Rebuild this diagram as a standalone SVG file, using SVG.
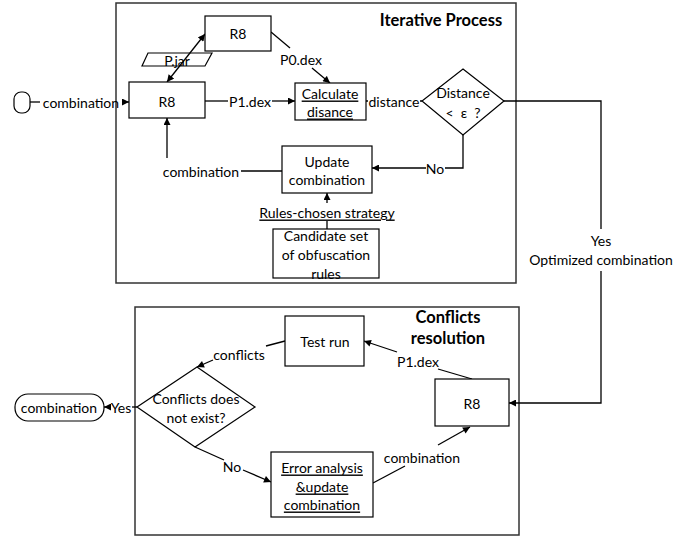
<svg xmlns="http://www.w3.org/2000/svg" width="700" height="538" viewBox="0 0 700 538">
<defs>
<marker id="ah" viewBox="0 0 10 10" refX="10" refY="5" markerWidth="8" markerHeight="7" markerUnits="userSpaceOnUse" orient="auto-start-reverse">
<path d="M0,0 L10,5 L0,10 z" fill="#000"/>
</marker>
</defs>
<style>
text{font-family:Lato,"Open Sans","Liberation Sans",sans-serif;font-size:14px;fill:#000;}
.t{text-anchor:middle;dominant-baseline:central;}
.b{font-weight:bold;font-size:16.5px;}
.u{text-decoration:underline;}
.pre{white-space:pre;}
.box{fill:#fff;stroke:#000;stroke-width:1.2;}
.frame{fill:none;stroke:#333;stroke-width:1.5;}
.ln{fill:none;stroke:#000;stroke-width:1.3;}
.ar{fill:none;stroke:#000;stroke-width:1.3;marker-end:url(#ah);}
</style>
<rect id="frame-iterative" class="frame" x="116" y="3" width="400" height="280"/>
<rect id="frame-conflicts" class="frame" x="135" y="307" width="384" height="228"/>
<text class="t b" x="441" y="20">Iterative Process</text>
<g id="title-conflicts"><text class="t b" x="448" y="317">Conflicts</text><text class="t b" x="448" y="338">resolution</text></g>

<g id="lbl-pjar"><path class="box" d="M148,53 H212 L205,66 H142 Z"/><text class="t" x="177" y="60">P.jar</text></g>

<g id="connectors">
<path class="ln" d="M30,102 H40"/>
<path class="ar" d="M122,102 H129"/>
<path class="ln" d="M167,82 L205,34" marker-start="url(#ah)" marker-end="url(#ah)"/>
<path class="ln" d="M271,32 L290,48"/>
<path class="ar" d="M312,68 L330,83"/>
<path class="ln" d="M205,101 H228"/>
<path class="ar" d="M272,101 H295"/>
<path class="ln" d="M366,101 H368"/>
<path class="ln" d="M420,101 H422"/>
<path class="ln" d="M463,135 V168 H445"/>
<path class="ar" d="M426,168 H372"/>
<path class="ln" d="M241,171 H282"/>
<path class="ar" d="M167,158 V118"/>
<path class="ar" d="M327,203 V193"/>
<path class="ln" d="M327,229 V221"/>
<path class="ln" d="M504,101 H601 V229"/>
<path class="ar" d="M601,271 V403 H509"/>
<path class="ln" d="M472,379 L438,369"/>
<path class="ar" d="M397,352 L364,341"/>
<path class="ln" d="M285,341 L266,346"/>
<path class="ar" d="M213,360 L197,367"/>
<path class="ln" d="M137,407 H132"/>
<path class="ar" d="M110,407 H104"/>
<path class="ln" d="M195,447 L224,460"/>
<path class="ar" d="M243,470 L271,482"/>
<path class="ln" d="M373,483 L405,466"/>
<path class="ar" d="M438,445 L470,427"/>
</g>

<g id="lbl-combination-start"><text class="t" x="81" y="102">combination</text></g>
<g id="lbl-p0"><text class="t" x="301" y="59">P0.dex</text></g>
<g id="lbl-p1"><text class="t" x="250" y="101">P1.dex</text></g>
<g id="lbl-distance"><text class="t" x="394" y="101">distance</text></g>
<g id="lbl-no1"><text class="t" x="435" y="168">No</text></g>
<g id="lbl-comb2"><text class="t" x="201" y="171">combination</text></g>
<g id="lbl-rules"><text class="t u" x="327" y="212">Rules-chosen strategy</text></g>
<g id="lbl-yes-opt"><text class="t" x="601" y="240">Yes</text><text class="t" x="601" y="259">Optimized combination</text></g>
<g id="lbl-p1b"><text class="t" x="418" y="361">P1.dex</text></g>
<g id="lbl-conflicts"><text class="t" x="239" y="354">conflicts</text></g>
<g id="lbl-yes2"><text class="t" x="121" y="407">Yes</text></g>
<g id="lbl-no2"><text class="t" x="232" y="466">No</text></g>
<g id="lbl-comb3"><text class="t" x="422" y="457">combination</text></g>

<g id="start"><rect class="box" x="14" y="92" width="16" height="21" rx="7"/></g>
<g id="r8-top"><rect class="box" x="205" y="16" width="66" height="35"/><text class="t" x="238" y="33">R8</text></g>
<g id="r8-main"><rect class="box" x="129" y="82" width="76" height="36"/><text class="t" x="167" y="101">R8</text></g>
<g id="calc"><rect class="box" x="295" y="83" width="71" height="37"/><text class="t u" x="330" y="93">Calculate</text><text class="t u" x="330" y="111">disance</text></g>
<g id="dist-decision"><path class="box" d="M463,69 L504,101 L463,135 L422,101 Z"/><text class="t" x="463" y="92">Distance</text><text class="t pre" x="463" y="112">&lt;  ε  ?</text></g>
<g id="update"><rect class="box" x="282" y="146" width="90" height="47"/><text class="t" x="327" y="161">Update</text><text class="t" x="327" y="179">combination</text></g>
<g id="candidate"><rect class="box" x="273" y="229" width="106" height="49"/><text class="t" x="326" y="235">Candidate set</text><text class="t" x="326" y="254">of obfuscation</text><text class="t" x="326" y="273">rules</text></g>

<g id="testrun"><rect class="box" x="285" y="316" width="79" height="50"/><text class="t" x="325" y="341">Test run</text></g>
<g id="r8-conf"><rect class="box" x="435" y="379" width="74" height="47"/><text class="t" x="472" y="403">R8</text></g>
<g id="conf-decision"><path class="box" d="M197,367 L255,407 L195,447 L137,407 Z"/><text class="t" x="196" y="398">Conflicts does</text><text class="t" x="196" y="417">not exist?</text></g>
<g id="end"><rect class="box" x="15" y="394" width="89" height="27" rx="13"/><text class="t" x="59" y="407">combination</text></g>
<g id="error"><rect class="box" x="271" y="452" width="102" height="65"/><text class="t u" x="322" y="467">Error analysis</text><text class="t u" x="322" y="486">&amp;update</text><text class="t u" x="322" y="504">combination</text></g>
</svg>
